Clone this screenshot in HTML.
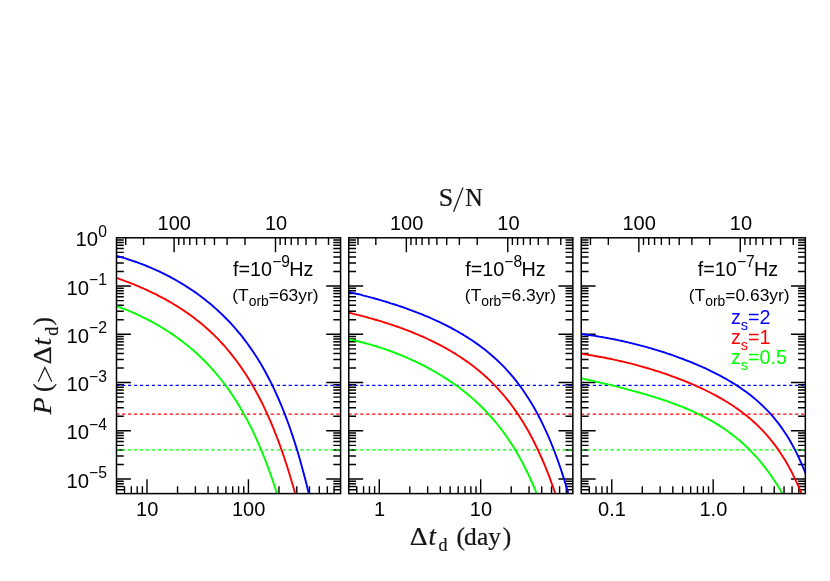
<!DOCTYPE html>
<html><head><meta charset="utf-8"><title>P(&gt;dt) vs dt</title>
<style>
html,body{margin:0;padding:0;background:#fff;}
svg{display:block;will-change:transform;}
.s{font-family:"Liberation Sans",sans-serif;fill:#000;}
.f{font-family:"Liberation Serif",serif;fill:#161616;stroke:#161616;stroke-width:0.22px;}
</style></head>
<body>
<svg width="830" height="581" viewBox="0 0 830 581">
<rect x="0" y="0" width="830" height="581" fill="#ffffff"/>
<defs>
<clipPath id="c0"><rect x="116.50" y="237.80" width="224.10" height="255.80"/></clipPath>
<clipPath id="c1"><rect x="348.75" y="237.80" width="224.10" height="255.80"/></clipPath>
<clipPath id="c2"><rect x="581.25" y="237.80" width="224.10" height="255.80"/></clipPath>
</defs>
<!-- panel L -->
<g>
<path d="M116.50 286.05h14.40M340.60 286.05h-14.40M116.50 271.53h7.30M340.60 271.53h-7.30M116.50 263.03h7.30M340.60 263.03h-7.30M116.50 257.00h7.30M340.60 257.00h-7.30M116.50 252.33h7.30M340.60 252.33h-7.30M116.50 248.51h7.30M340.60 248.51h-7.30M116.50 245.27h7.30M340.60 245.27h-7.30M116.50 242.48h7.30M340.60 242.48h-7.30M116.50 240.01h7.30M340.60 240.01h-7.30M116.50 334.31h14.40M340.60 334.31h-14.40M116.50 319.78h7.30M340.60 319.78h-7.30M116.50 311.29h7.30M340.60 311.29h-7.30M116.50 305.26h7.30M340.60 305.26h-7.30M116.50 300.58h7.30M340.60 300.58h-7.30M116.50 296.76h7.30M340.60 296.76h-7.30M116.50 293.53h7.30M340.60 293.53h-7.30M116.50 290.73h7.30M340.60 290.73h-7.30M116.50 288.26h7.30M340.60 288.26h-7.30M116.50 382.56h14.40M340.60 382.56h-14.40M116.50 368.04h7.30M340.60 368.04h-7.30M116.50 359.54h7.30M340.60 359.54h-7.30M116.50 353.51h7.30M340.60 353.51h-7.30M116.50 348.84h7.30M340.60 348.84h-7.30M116.50 345.01h7.30M340.60 345.01h-7.30M116.50 341.78h7.30M340.60 341.78h-7.30M116.50 338.99h7.30M340.60 338.99h-7.30M116.50 336.52h7.30M340.60 336.52h-7.30M116.50 430.82h14.40M340.60 430.82h-14.40M116.50 416.29h7.30M340.60 416.29h-7.30M116.50 407.80h7.30M340.60 407.80h-7.30M116.50 401.77h7.30M340.60 401.77h-7.30M116.50 397.09h7.30M340.60 397.09h-7.30M116.50 393.27h7.30M340.60 393.27h-7.30M116.50 390.04h7.30M340.60 390.04h-7.30M116.50 387.24h7.30M340.60 387.24h-7.30M116.50 384.77h7.30M340.60 384.77h-7.30M116.50 479.07h14.40M340.60 479.07h-14.40M116.50 464.55h7.30M340.60 464.55h-7.30M116.50 456.05h7.30M340.60 456.05h-7.30M116.50 450.02h7.30M340.60 450.02h-7.30M116.50 445.35h7.30M340.60 445.35h-7.30M116.50 441.52h7.30M340.60 441.52h-7.30M116.50 438.29h7.30M340.60 438.29h-7.30M116.50 435.50h7.30M340.60 435.50h-7.30M116.50 433.03h7.30M340.60 433.03h-7.30M116.50 489.78h7.30M340.60 489.78h-7.30M116.50 486.55h7.30M340.60 486.55h-7.30M116.50 483.75h7.30M340.60 483.75h-7.30M116.50 481.28h7.30M340.60 481.28h-7.30M124.53 493.60v-7.30M131.32 493.60v-7.30M137.20 493.60v-7.30M142.38 493.60v-7.30M147.02 493.60v-14.40M177.55 493.60v-7.30M195.40 493.60v-7.30M208.07 493.60v-7.30M217.90 493.60v-7.30M225.93 493.60v-7.30M232.72 493.60v-7.30M238.60 493.60v-7.30M243.78 493.60v-7.30M248.42 493.60v-14.40M278.95 493.60v-7.30M296.80 493.60v-7.30M309.47 493.60v-7.30M319.30 493.60v-7.30M327.33 493.60v-7.30M334.12 493.60v-7.30M328.52 237.80v7.30M315.85 237.80v7.30M306.02 237.80v7.30M298.00 237.80v7.30M291.21 237.80v7.30M285.33 237.80v7.30M280.14 237.80v7.30M275.50 237.80v14.40M244.98 237.80v7.30M227.12 237.80v7.30M214.45 237.80v7.30M204.62 237.80v7.30M196.60 237.80v7.30M189.81 237.80v7.30M183.93 237.80v7.30M178.74 237.80v7.30M174.10 237.80v14.40M143.58 237.80v7.30M125.72 237.80v7.30" stroke="#000" stroke-width="1.40" fill="none"/>
<line x1="116.10" y1="385.30" x2="339.80" y2="385.30" stroke="#0000ff" stroke-width="1.35" stroke-dasharray="3.25 2.7"/>
<line x1="116.10" y1="414.10" x2="339.80" y2="414.10" stroke="#ff0000" stroke-width="1.35" stroke-dasharray="3.25 2.7"/>
<line x1="116.10" y1="449.80" x2="339.80" y2="449.80" stroke="#00ff00" stroke-width="1.35" stroke-dasharray="3.25 2.7"/>
<g clip-path="url(#c0)" fill="none" stroke-width="1.9" stroke-linejoin="round">
<path d="M114.6 255.4 L116.6 256.0 L118.6 256.5 L120.6 257.1 L122.6 257.6 L124.6 258.2 L126.6 258.8 L128.6 259.5 L130.6 260.1 L132.6 260.8 L134.6 261.5 L136.6 262.2 L138.6 262.9 L140.6 263.6 L142.6 264.4 L144.6 265.2 L146.6 266.0 L148.6 266.8 L150.6 267.6 L152.6 268.5 L154.6 269.4 L156.6 270.3 L158.6 271.2 L160.6 272.2 L162.6 273.1 L164.6 274.1 L166.6 275.1 L168.6 276.1 L170.6 277.2 L172.6 278.3 L174.6 279.4 L176.6 280.5 L178.6 281.7 L180.6 282.9 L182.6 284.1 L184.6 285.3 L186.6 286.6 L188.6 287.9 L190.6 289.2 L192.6 290.5 L194.6 291.9 L196.6 293.3 L198.6 294.8 L200.6 296.2 L202.6 297.7 L204.6 299.3 L206.6 300.9 L208.6 302.5 L210.6 304.1 L212.6 305.8 L214.6 307.6 L216.6 309.4 L218.6 311.2 L220.6 313.1 L222.6 315.0 L224.6 317.0 L226.6 319.0 L228.6 321.0 L230.6 323.2 L232.6 325.4 L234.6 327.6 L236.6 329.9 L238.6 332.3 L240.6 334.7 L242.6 337.2 L244.6 339.8 L246.6 342.5 L248.6 345.2 L250.6 348.1 L252.6 351.0 L254.6 354.0 L256.6 357.1 L258.6 360.3 L260.6 363.6 L262.6 367.0 L264.6 370.5 L266.6 374.2 L268.6 378.0 L270.6 381.9 L272.6 385.9 L274.6 390.1 L276.6 394.5 L278.6 399.0 L280.6 403.7 L282.6 408.5 L284.6 413.6 L286.6 418.8 L288.6 424.3 L290.6 430.0 L292.6 435.9 L294.6 442.0 L296.6 448.4 L298.6 455.0 L300.6 462.0 L302.6 469.2 L304.6 476.8 L306.6 484.6 L308.6 492.8" stroke="#0000ff"/>
<path d="M114.6 277.2 L116.6 277.9 L118.6 278.6 L120.6 279.3 L122.6 280.1 L124.6 280.8 L126.6 281.6 L128.6 282.3 L130.6 283.1 L132.6 283.9 L134.6 284.7 L136.6 285.6 L138.6 286.4 L140.6 287.3 L142.6 288.1 L144.6 289.0 L146.6 289.9 L148.6 290.9 L150.6 291.8 L152.6 292.8 L154.6 293.7 L156.6 294.7 L158.6 295.8 L160.6 296.8 L162.6 297.9 L164.6 298.9 L166.6 300.1 L168.6 301.2 L170.6 302.3 L172.6 303.5 L174.6 304.7 L176.6 305.9 L178.6 307.2 L180.6 308.5 L182.6 309.8 L184.6 311.1 L186.6 312.5 L188.6 313.9 L190.6 315.3 L192.6 316.8 L194.6 318.3 L196.6 319.9 L198.6 321.5 L200.6 323.1 L202.6 324.7 L204.6 326.4 L206.6 328.2 L208.6 330.0 L210.6 331.8 L212.6 333.7 L214.6 335.7 L216.6 337.7 L218.6 339.7 L220.6 341.8 L222.6 344.0 L224.6 346.2 L226.6 348.5 L228.6 350.9 L230.6 353.3 L232.6 355.8 L234.6 358.4 L236.6 361.0 L238.6 363.8 L240.6 366.6 L242.6 369.5 L244.6 372.5 L246.6 375.6 L248.6 378.8 L250.6 382.0 L252.6 385.5 L254.6 389.0 L256.6 392.6 L258.6 396.3 L260.6 400.2 L262.6 404.2 L264.6 408.4 L266.6 412.7 L268.6 417.1 L270.6 421.7 L272.6 426.4 L274.6 431.4 L276.6 436.5 L278.6 441.7 L280.6 447.2 L282.6 452.9 L284.6 458.8 L286.6 464.8 L288.6 471.2 L290.6 477.7 L292.6 484.5 L294.6 491.6 L296.6 498.9" stroke="#ff0000"/>
<path d="M114.6 305.3 L116.6 306.0 L118.6 306.8 L120.6 307.5 L122.6 308.3 L124.6 309.1 L126.6 309.9 L128.6 310.7 L130.6 311.6 L132.6 312.4 L134.6 313.3 L136.6 314.2 L138.6 315.1 L140.6 316.1 L142.6 317.1 L144.6 318.1 L146.6 319.1 L148.6 320.1 L150.6 321.2 L152.6 322.2 L154.6 323.3 L156.6 324.5 L158.6 325.6 L160.6 326.8 L162.6 328.0 L164.6 329.2 L166.6 330.5 L168.6 331.8 L170.6 333.1 L172.6 334.4 L174.6 335.8 L176.6 337.2 L178.6 338.7 L180.6 340.1 L182.6 341.7 L184.6 343.2 L186.6 344.8 L188.6 346.4 L190.6 348.1 L192.6 349.8 L194.6 351.5 L196.6 353.3 L198.6 355.2 L200.6 357.1 L202.6 359.0 L204.6 361.0 L206.6 363.0 L208.6 365.1 L210.6 367.3 L212.6 369.5 L214.6 371.8 L216.6 374.1 L218.6 376.5 L220.6 379.0 L222.6 381.5 L224.6 384.1 L226.6 386.8 L228.6 389.6 L230.6 392.5 L232.6 395.4 L234.6 398.5 L236.6 401.6 L238.6 404.9 L240.6 408.2 L242.6 411.7 L244.6 415.2 L246.6 418.9 L248.6 422.7 L250.6 426.6 L252.6 430.7 L254.6 434.9 L256.6 439.3 L258.6 443.8 L260.6 448.5 L262.6 453.3 L264.6 458.3 L266.6 463.5 L268.6 468.9 L270.6 474.5 L272.6 480.3 L274.6 486.3 L276.6 492.5 L278.6 499.0" stroke="#00ff00"/>
</g>
<rect x="116.50" y="237.80" width="224.10" height="255.80" fill="none" stroke="#000" stroke-width="1.50"/>
</g>
<!-- panel M -->
<g>
<path d="M348.75 286.05h14.40M572.85 286.05h-14.40M348.75 271.53h7.30M572.85 271.53h-7.30M348.75 263.03h7.30M572.85 263.03h-7.30M348.75 257.00h7.30M572.85 257.00h-7.30M348.75 252.33h7.30M572.85 252.33h-7.30M348.75 248.51h7.30M572.85 248.51h-7.30M348.75 245.27h7.30M572.85 245.27h-7.30M348.75 242.48h7.30M572.85 242.48h-7.30M348.75 240.01h7.30M572.85 240.01h-7.30M348.75 334.31h14.40M572.85 334.31h-14.40M348.75 319.78h7.30M572.85 319.78h-7.30M348.75 311.29h7.30M572.85 311.29h-7.30M348.75 305.26h7.30M572.85 305.26h-7.30M348.75 300.58h7.30M572.85 300.58h-7.30M348.75 296.76h7.30M572.85 296.76h-7.30M348.75 293.53h7.30M572.85 293.53h-7.30M348.75 290.73h7.30M572.85 290.73h-7.30M348.75 288.26h7.30M572.85 288.26h-7.30M348.75 382.56h14.40M572.85 382.56h-14.40M348.75 368.04h7.30M572.85 368.04h-7.30M348.75 359.54h7.30M572.85 359.54h-7.30M348.75 353.51h7.30M572.85 353.51h-7.30M348.75 348.84h7.30M572.85 348.84h-7.30M348.75 345.01h7.30M572.85 345.01h-7.30M348.75 341.78h7.30M572.85 341.78h-7.30M348.75 338.99h7.30M572.85 338.99h-7.30M348.75 336.52h7.30M572.85 336.52h-7.30M348.75 430.82h14.40M572.85 430.82h-14.40M348.75 416.29h7.30M572.85 416.29h-7.30M348.75 407.80h7.30M572.85 407.80h-7.30M348.75 401.77h7.30M572.85 401.77h-7.30M348.75 397.09h7.30M572.85 397.09h-7.30M348.75 393.27h7.30M572.85 393.27h-7.30M348.75 390.04h7.30M572.85 390.04h-7.30M348.75 387.24h7.30M572.85 387.24h-7.30M348.75 384.77h7.30M572.85 384.77h-7.30M348.75 479.07h14.40M572.85 479.07h-14.40M348.75 464.55h7.30M572.85 464.55h-7.30M348.75 456.05h7.30M572.85 456.05h-7.30M348.75 450.02h7.30M572.85 450.02h-7.30M348.75 445.35h7.30M572.85 445.35h-7.30M348.75 441.52h7.30M572.85 441.52h-7.30M348.75 438.29h7.30M572.85 438.29h-7.30M348.75 435.50h7.30M572.85 435.50h-7.30M348.75 433.03h7.30M572.85 433.03h-7.30M348.75 489.78h7.30M572.85 489.78h-7.30M348.75 486.55h7.30M572.85 486.55h-7.30M348.75 483.75h7.30M572.85 483.75h-7.30M348.75 481.28h7.30M572.85 481.28h-7.30M356.78 493.60v-7.30M363.57 493.60v-7.30M369.45 493.60v-7.30M374.63 493.60v-7.30M379.27 493.60v-14.40M409.80 493.60v-7.30M427.65 493.60v-7.30M440.32 493.60v-7.30M450.15 493.60v-7.30M458.18 493.60v-7.30M464.97 493.60v-7.30M470.85 493.60v-7.30M476.03 493.60v-7.30M480.67 493.60v-14.40M511.20 493.60v-7.30M529.05 493.60v-7.30M541.72 493.60v-7.30M551.55 493.60v-7.30M559.58 493.60v-7.30M566.37 493.60v-7.30M560.77 237.80v7.30M548.10 237.80v7.30M538.27 237.80v7.30M530.25 237.80v7.30M523.46 237.80v7.30M517.58 237.80v7.30M512.39 237.80v7.30M507.75 237.80v14.40M477.23 237.80v7.30M459.37 237.80v7.30M446.70 237.80v7.30M436.87 237.80v7.30M428.85 237.80v7.30M422.06 237.80v7.30M416.18 237.80v7.30M410.99 237.80v7.30M406.35 237.80v14.40M375.83 237.80v7.30M357.97 237.80v7.30" stroke="#000" stroke-width="1.40" fill="none"/>
<line x1="348.35" y1="385.30" x2="572.05" y2="385.30" stroke="#0000ff" stroke-width="1.35" stroke-dasharray="3.25 2.7"/>
<line x1="348.35" y1="414.10" x2="572.05" y2="414.10" stroke="#ff0000" stroke-width="1.35" stroke-dasharray="3.25 2.7"/>
<line x1="348.35" y1="449.80" x2="572.05" y2="449.80" stroke="#00ff00" stroke-width="1.35" stroke-dasharray="3.25 2.7"/>
<g clip-path="url(#c1)" fill="none" stroke-width="1.9" stroke-linejoin="round">
<path d="M346.7 291.4 L348.7 291.8 L350.7 292.3 L352.7 292.8 L354.7 293.3 L356.7 293.8 L358.7 294.2 L360.7 294.7 L362.7 295.3 L364.7 295.8 L366.7 296.3 L368.7 296.8 L370.7 297.4 L372.7 297.9 L374.7 298.5 L376.7 299.0 L378.7 299.6 L380.7 300.2 L382.7 300.8 L384.7 301.4 L386.7 302.0 L388.7 302.6 L390.7 303.3 L392.7 303.9 L394.7 304.5 L396.7 305.2 L398.7 305.9 L400.7 306.5 L402.7 307.2 L404.7 307.9 L406.7 308.6 L408.7 309.4 L410.7 310.1 L412.7 310.8 L414.7 311.6 L416.7 312.4 L418.7 313.1 L420.7 313.9 L422.7 314.7 L424.7 315.6 L426.7 316.4 L428.7 317.2 L430.7 318.1 L432.7 319.0 L434.7 319.9 L436.7 320.8 L438.7 321.7 L440.7 322.7 L442.7 323.6 L444.7 324.6 L446.7 325.6 L448.7 326.7 L450.7 327.7 L452.7 328.8 L454.7 329.9 L456.7 331.0 L458.7 332.1 L460.7 333.3 L462.7 334.4 L464.7 335.7 L466.7 336.9 L468.7 338.2 L470.7 339.5 L472.7 340.8 L474.7 342.2 L476.7 343.6 L478.7 345.0 L480.7 346.5 L482.7 348.0 L484.7 349.5 L486.7 351.1 L488.7 352.8 L490.7 354.5 L492.7 356.2 L494.7 358.0 L496.7 359.8 L498.7 361.7 L500.7 363.7 L502.7 365.7 L504.7 367.7 L506.7 369.9 L508.7 372.1 L510.7 374.4 L512.7 376.7 L514.7 379.2 L516.7 381.7 L518.7 384.3 L520.7 387.0 L522.7 389.8 L524.7 392.7 L526.7 395.7 L528.7 398.8 L530.7 402.0 L532.7 405.3 L534.7 408.8 L536.7 412.4 L538.7 416.2 L540.7 420.0 L542.7 424.1 L544.7 428.3 L546.7 432.7 L548.7 437.2 L550.7 442.0 L552.7 446.9 L554.7 452.0 L556.7 457.4 L558.7 463.0 L560.7 468.8 L562.7 474.9 L564.7 481.2 L566.7 487.8 L568.7 494.8" stroke="#0000ff"/>
<path d="M346.7 312.3 L348.7 312.7 L350.7 313.2 L352.7 313.7 L354.7 314.2 L356.7 314.6 L358.7 315.1 L360.7 315.6 L362.7 316.2 L364.7 316.7 L366.7 317.2 L368.7 317.8 L370.7 318.3 L372.7 318.9 L374.7 319.5 L376.7 320.0 L378.7 320.6 L380.7 321.2 L382.7 321.8 L384.7 322.5 L386.7 323.1 L388.7 323.8 L390.7 324.4 L392.7 325.1 L394.7 325.8 L396.7 326.5 L398.7 327.2 L400.7 327.9 L402.7 328.6 L404.7 329.4 L406.7 330.1 L408.7 330.9 L410.7 331.7 L412.7 332.5 L414.7 333.3 L416.7 334.1 L418.7 335.0 L420.7 335.8 L422.7 336.7 L424.7 337.6 L426.7 338.5 L428.7 339.5 L430.7 340.4 L432.7 341.4 L434.7 342.4 L436.7 343.4 L438.7 344.4 L440.7 345.4 L442.7 346.5 L444.7 347.6 L446.7 348.7 L448.7 349.9 L450.7 351.0 L452.7 352.2 L454.7 353.4 L456.7 354.7 L458.7 356.0 L460.7 357.3 L462.7 358.6 L464.7 360.0 L466.7 361.4 L468.7 362.8 L470.7 364.3 L472.7 365.8 L474.7 367.3 L476.7 368.9 L478.7 370.5 L480.7 372.2 L482.7 373.9 L484.7 375.7 L486.7 377.5 L488.7 379.4 L490.7 381.3 L492.7 383.3 L494.7 385.3 L496.7 387.4 L498.7 389.6 L500.7 391.8 L502.7 394.1 L504.7 396.5 L506.7 398.9 L508.7 401.4 L510.7 404.0 L512.7 406.7 L514.7 409.5 L516.7 412.4 L518.7 415.3 L520.7 418.4 L522.7 421.6 L524.7 424.9 L526.7 428.3 L528.7 431.8 L530.7 435.5 L532.7 439.3 L534.7 443.2 L536.7 447.3 L538.7 451.5 L540.7 455.9 L542.7 460.5 L544.7 465.2 L546.7 470.1 L548.7 475.2 L550.7 480.6 L552.7 486.1 L554.7 491.8 L556.7 497.8" stroke="#ff0000"/>
<path d="M346.7 338.8 L348.7 339.2 L350.7 339.6 L352.7 340.1 L354.7 340.5 L356.7 341.0 L358.7 341.5 L360.7 342.0 L362.7 342.5 L364.7 343.0 L366.7 343.6 L368.7 344.1 L370.7 344.7 L372.7 345.3 L374.7 345.9 L376.7 346.5 L378.7 347.1 L380.7 347.8 L382.7 348.4 L384.7 349.1 L386.7 349.8 L388.7 350.5 L390.7 351.2 L392.7 352.0 L394.7 352.7 L396.7 353.5 L398.7 354.3 L400.7 355.1 L402.7 355.9 L404.7 356.8 L406.7 357.6 L408.7 358.5 L410.7 359.4 L412.7 360.3 L414.7 361.2 L416.7 362.2 L418.7 363.1 L420.7 364.1 L422.7 365.1 L424.7 366.1 L426.7 367.2 L428.7 368.3 L430.7 369.4 L432.7 370.5 L434.7 371.6 L436.7 372.8 L438.7 374.0 L440.7 375.2 L442.7 376.4 L444.7 377.7 L446.7 378.9 L448.7 380.3 L450.7 381.6 L452.7 383.0 L454.7 384.4 L456.7 385.8 L458.7 387.3 L460.7 388.8 L462.7 390.3 L464.7 391.9 L466.7 393.5 L468.7 395.2 L470.7 396.9 L472.7 398.6 L474.7 400.4 L476.7 402.2 L478.7 404.1 L480.7 406.0 L482.7 408.0 L484.7 410.0 L486.7 412.1 L488.7 414.3 L490.7 416.5 L492.7 418.7 L494.7 421.1 L496.7 423.5 L498.7 426.0 L500.7 428.5 L502.7 431.2 L504.7 433.9 L506.7 436.7 L508.7 439.7 L510.7 442.7 L512.7 445.8 L514.7 449.0 L516.7 452.4 L518.7 455.8 L520.7 459.4 L522.7 463.1 L524.7 467.0 L526.7 471.0 L528.7 475.2 L530.7 479.5 L532.7 484.0 L534.7 488.7 L536.7 493.5 L538.7 498.6" stroke="#00ff00"/>
</g>
<rect x="348.75" y="237.80" width="224.10" height="255.80" fill="none" stroke="#000" stroke-width="1.50"/>
</g>
<!-- panel R -->
<g>
<path d="M581.25 286.05h14.40M805.35 286.05h-14.40M581.25 271.53h7.30M805.35 271.53h-7.30M581.25 263.03h7.30M805.35 263.03h-7.30M581.25 257.00h7.30M805.35 257.00h-7.30M581.25 252.33h7.30M805.35 252.33h-7.30M581.25 248.51h7.30M805.35 248.51h-7.30M581.25 245.27h7.30M805.35 245.27h-7.30M581.25 242.48h7.30M805.35 242.48h-7.30M581.25 240.01h7.30M805.35 240.01h-7.30M581.25 334.31h14.40M805.35 334.31h-14.40M581.25 319.78h7.30M805.35 319.78h-7.30M581.25 311.29h7.30M805.35 311.29h-7.30M581.25 305.26h7.30M805.35 305.26h-7.30M581.25 300.58h7.30M805.35 300.58h-7.30M581.25 296.76h7.30M805.35 296.76h-7.30M581.25 293.53h7.30M805.35 293.53h-7.30M581.25 290.73h7.30M805.35 290.73h-7.30M581.25 288.26h7.30M805.35 288.26h-7.30M581.25 382.56h14.40M805.35 382.56h-14.40M581.25 368.04h7.30M805.35 368.04h-7.30M581.25 359.54h7.30M805.35 359.54h-7.30M581.25 353.51h7.30M805.35 353.51h-7.30M581.25 348.84h7.30M805.35 348.84h-7.30M581.25 345.01h7.30M805.35 345.01h-7.30M581.25 341.78h7.30M805.35 341.78h-7.30M581.25 338.99h7.30M805.35 338.99h-7.30M581.25 336.52h7.30M805.35 336.52h-7.30M581.25 430.82h14.40M805.35 430.82h-14.40M581.25 416.29h7.30M805.35 416.29h-7.30M581.25 407.80h7.30M805.35 407.80h-7.30M581.25 401.77h7.30M805.35 401.77h-7.30M581.25 397.09h7.30M805.35 397.09h-7.30M581.25 393.27h7.30M805.35 393.27h-7.30M581.25 390.04h7.30M805.35 390.04h-7.30M581.25 387.24h7.30M805.35 387.24h-7.30M581.25 384.77h7.30M805.35 384.77h-7.30M581.25 479.07h14.40M805.35 479.07h-14.40M581.25 464.55h7.30M805.35 464.55h-7.30M581.25 456.05h7.30M805.35 456.05h-7.30M581.25 450.02h7.30M805.35 450.02h-7.30M581.25 445.35h7.30M805.35 445.35h-7.30M581.25 441.52h7.30M805.35 441.52h-7.30M581.25 438.29h7.30M805.35 438.29h-7.30M581.25 435.50h7.30M805.35 435.50h-7.30M581.25 433.03h7.30M805.35 433.03h-7.30M581.25 489.78h7.30M805.35 489.78h-7.30M581.25 486.55h7.30M805.35 486.55h-7.30M581.25 483.75h7.30M805.35 483.75h-7.30M581.25 481.28h7.30M805.35 481.28h-7.30M589.28 493.60v-7.30M596.07 493.60v-7.30M601.95 493.60v-7.30M607.13 493.60v-7.30M611.77 493.60v-14.40M642.30 493.60v-7.30M660.15 493.60v-7.30M672.82 493.60v-7.30M682.65 493.60v-7.30M690.68 493.60v-7.30M697.47 493.60v-7.30M703.35 493.60v-7.30M708.53 493.60v-7.30M713.17 493.60v-14.40M743.70 493.60v-7.30M761.55 493.60v-7.30M774.22 493.60v-7.30M784.05 493.60v-7.30M792.08 493.60v-7.30M798.87 493.60v-7.30M793.27 237.80v7.30M780.60 237.80v7.30M770.77 237.80v7.30M762.75 237.80v7.30M755.96 237.80v7.30M750.08 237.80v7.30M744.89 237.80v7.30M740.25 237.80v14.40M709.73 237.80v7.30M691.87 237.80v7.30M679.20 237.80v7.30M669.37 237.80v7.30M661.35 237.80v7.30M654.56 237.80v7.30M648.68 237.80v7.30M643.49 237.80v7.30M638.85 237.80v14.40M608.33 237.80v7.30M590.47 237.80v7.30" stroke="#000" stroke-width="1.40" fill="none"/>
<line x1="580.85" y1="385.30" x2="804.55" y2="385.30" stroke="#0000ff" stroke-width="1.35" stroke-dasharray="3.25 2.7"/>
<line x1="580.85" y1="414.10" x2="804.55" y2="414.10" stroke="#ff0000" stroke-width="1.35" stroke-dasharray="3.25 2.7"/>
<line x1="580.85" y1="449.80" x2="804.55" y2="449.80" stroke="#00ff00" stroke-width="1.35" stroke-dasharray="3.25 2.7"/>
<g clip-path="url(#c2)" fill="none" stroke-width="1.9" stroke-linejoin="round">
<path d="M579.0 333.7 L581.0 334.0 L583.0 334.2 L585.0 334.5 L587.0 334.8 L589.0 335.0 L591.0 335.3 L593.0 335.6 L595.0 335.9 L597.0 336.3 L599.0 336.6 L601.0 336.9 L603.0 337.3 L605.0 337.6 L607.0 338.0 L609.0 338.4 L611.0 338.7 L613.0 339.1 L615.0 339.5 L617.0 339.9 L619.0 340.4 L621.0 340.8 L623.0 341.2 L625.0 341.7 L627.0 342.1 L629.0 342.6 L631.0 343.1 L633.0 343.6 L635.0 344.1 L637.0 344.6 L639.0 345.1 L641.0 345.6 L643.0 346.1 L645.0 346.7 L647.0 347.2 L649.0 347.8 L651.0 348.4 L653.0 349.0 L655.0 349.6 L657.0 350.2 L659.0 350.8 L661.0 351.4 L663.0 352.0 L665.0 352.7 L667.0 353.4 L669.0 354.0 L671.0 354.7 L673.0 355.4 L675.0 356.1 L677.0 356.8 L679.0 357.6 L681.0 358.3 L683.0 359.0 L685.0 359.8 L687.0 360.6 L689.0 361.4 L691.0 362.2 L693.0 363.0 L695.0 363.8 L697.0 364.7 L699.0 365.6 L701.0 366.4 L703.0 367.3 L705.0 368.2 L707.0 369.2 L709.0 370.1 L711.0 371.1 L713.0 372.1 L715.0 373.1 L717.0 374.1 L719.0 375.1 L721.0 376.2 L723.0 377.3 L725.0 378.4 L727.0 379.5 L729.0 380.7 L731.0 381.9 L733.0 383.1 L735.0 384.3 L737.0 385.6 L739.0 386.9 L741.0 388.3 L743.0 389.7 L745.0 391.1 L747.0 392.6 L749.0 394.1 L751.0 395.6 L753.0 397.2 L755.0 398.9 L757.0 400.6 L759.0 402.4 L761.0 404.2 L763.0 406.1 L765.0 408.1 L767.0 410.1 L769.0 412.2 L771.0 414.4 L773.0 416.7 L775.0 419.1 L777.0 421.6 L779.0 424.2 L781.0 426.9 L783.0 429.8 L785.0 432.7 L787.0 435.8 L789.0 439.1 L791.0 442.5 L793.0 446.1 L795.0 449.9 L797.0 453.9 L799.0 458.1 L801.0 462.5 L803.0 467.1 L805.0 472.0 L807.0 477.2 L809.0 482.7" stroke="#0000ff"/>
<path d="M579.0 353.4 L581.0 353.7 L583.0 354.0 L585.0 354.3 L587.0 354.6 L589.0 355.0 L591.0 355.3 L593.0 355.6 L595.0 356.0 L597.0 356.3 L599.0 356.7 L601.0 357.0 L603.0 357.4 L605.0 357.8 L607.0 358.2 L609.0 358.6 L611.0 359.0 L613.0 359.4 L615.0 359.9 L617.0 360.3 L619.0 360.8 L621.0 361.2 L623.0 361.7 L625.0 362.2 L627.0 362.7 L629.0 363.2 L631.0 363.7 L633.0 364.2 L635.0 364.7 L637.0 365.2 L639.0 365.8 L641.0 366.3 L643.0 366.9 L645.0 367.5 L647.0 368.0 L649.0 368.6 L651.0 369.2 L653.0 369.8 L655.0 370.5 L657.0 371.1 L659.0 371.7 L661.0 372.4 L663.0 373.1 L665.0 373.7 L667.0 374.4 L669.0 375.1 L671.0 375.8 L673.0 376.6 L675.0 377.3 L677.0 378.0 L679.0 378.8 L681.0 379.6 L683.0 380.4 L685.0 381.2 L687.0 382.0 L689.0 382.8 L691.0 383.6 L693.0 384.5 L695.0 385.4 L697.0 386.3 L699.0 387.2 L701.0 388.1 L703.0 389.0 L705.0 390.0 L707.0 391.0 L709.0 392.0 L711.0 393.0 L713.0 394.0 L715.0 395.1 L717.0 396.2 L719.0 397.3 L721.0 398.4 L723.0 399.6 L725.0 400.8 L727.0 402.0 L729.0 403.2 L731.0 404.5 L733.0 405.8 L735.0 407.2 L737.0 408.6 L739.0 410.0 L741.0 411.5 L743.0 413.0 L745.0 414.5 L747.0 416.1 L749.0 417.7 L751.0 419.4 L753.0 421.2 L755.0 423.0 L757.0 424.9 L759.0 426.8 L761.0 428.8 L763.0 430.9 L765.0 433.1 L767.0 435.3 L769.0 437.6 L771.0 440.1 L773.0 442.6 L775.0 445.2 L777.0 447.9 L779.0 450.8 L781.0 453.8 L783.0 456.9 L785.0 460.1 L787.0 463.5 L789.0 467.1 L791.0 470.8 L793.0 474.7 L795.0 478.8 L797.0 483.1 L799.0 487.6 L801.0 492.4 L803.0 497.4" stroke="#ff0000"/>
<path d="M579.0 377.7 L581.0 378.1 L583.0 378.6 L585.0 379.1 L587.0 379.5 L589.0 380.0 L591.0 380.4 L593.0 380.9 L595.0 381.4 L597.0 381.8 L599.0 382.3 L601.0 382.8 L603.0 383.3 L605.0 383.7 L607.0 384.2 L609.0 384.7 L611.0 385.2 L613.0 385.7 L615.0 386.2 L617.0 386.7 L619.0 387.2 L621.0 387.7 L623.0 388.2 L625.0 388.7 L627.0 389.3 L629.0 389.8 L631.0 390.3 L633.0 390.9 L635.0 391.4 L637.0 392.0 L639.0 392.5 L641.0 393.1 L643.0 393.7 L645.0 394.2 L647.0 394.8 L649.0 395.4 L651.0 396.0 L653.0 396.6 L655.0 397.3 L657.0 397.9 L659.0 398.5 L661.0 399.2 L663.0 399.8 L665.0 400.5 L667.0 401.2 L669.0 401.9 L671.0 402.6 L673.0 403.3 L675.0 404.1 L677.0 404.8 L679.0 405.6 L681.0 406.4 L683.0 407.2 L685.0 408.0 L687.0 408.8 L689.0 409.7 L691.0 410.6 L693.0 411.5 L695.0 412.4 L697.0 413.3 L699.0 414.3 L701.0 415.3 L703.0 416.3 L705.0 417.3 L707.0 418.4 L709.0 419.5 L711.0 420.6 L713.0 421.7 L715.0 422.9 L717.0 424.1 L719.0 425.4 L721.0 426.6 L723.0 428.0 L725.0 429.3 L727.0 430.7 L729.0 432.2 L731.0 433.6 L733.0 435.2 L735.0 436.7 L737.0 438.4 L739.0 440.0 L741.0 441.8 L743.0 443.5 L745.0 445.4 L747.0 447.3 L749.0 449.2 L751.0 451.3 L753.0 453.3 L755.0 455.5 L757.0 457.7 L759.0 460.0 L761.0 462.4 L763.0 464.9 L765.0 467.4 L767.0 470.0 L769.0 472.8 L771.0 475.6 L773.0 478.5 L775.0 481.5 L777.0 484.6 L779.0 487.8 L781.0 491.2 L783.0 494.6 L785.0 498.2" stroke="#00ff00"/>
</g>
<rect x="581.25" y="237.80" width="224.10" height="255.80" fill="none" stroke="#000" stroke-width="1.50"/>
</g>
<g class="s" font-size="20.0" text-anchor="middle">
<text x="147.2" y="516.1">10</text><text x="248.6" y="516.1">100</text>
<text x="174.3" y="229.7">100</text><text x="276.1" y="229.7">10</text>
<text x="379.5" y="516.1">1</text><text x="480.9" y="516.1">10</text>
<text x="406.6" y="229.7">100</text><text x="508.4" y="229.7">10</text>
<text x="612.0" y="516.1">0.1</text><text x="713.4" y="516.1">1.0</text>
<text x="639.1" y="229.7">100</text><text x="740.9" y="229.7">10</text>
</g>
<g class="s" font-size="20.3" text-anchor="end">
<text x="106.9" y="246.4">10<tspan font-size="15.7" dy="-9.5">0</tspan></text>
<text x="106.9" y="294.7">10<tspan font-size="15.7" dy="-9.5">−1</tspan></text>
<text x="106.9" y="342.9">10<tspan font-size="15.7" dy="-9.5">−2</tspan></text>
<text x="106.9" y="391.2">10<tspan font-size="15.7" dy="-9.5">−3</tspan></text>
<text x="106.9" y="439.4">10<tspan font-size="15.7" dy="-9.5">−4</tspan></text>
<text x="106.9" y="487.7">10<tspan font-size="15.7" dy="-9.5">−5</tspan></text>
</g>
<g class="s">
<text x="233.0" y="275.5" font-size="19.8" text-anchor="start">f=10<tspan font-size="15.6" dy="-8.8" dx="0.1">−9</tspan><tspan dy="8.8" dx="-0.7">Hz</tspan></text>
<text x="275.4" y="300.6" font-size="17.4" text-anchor="middle">(T<tspan font-size="13.9" dy="5.3">orb</tspan><tspan dy="-5.3">=63yr)</tspan></text>
<text x="465.2" y="275.5" font-size="19.8" text-anchor="start">f=10<tspan font-size="15.6" dy="-8.8" dx="0.1">−8</tspan><tspan dy="8.8" dx="-0.7">Hz</tspan></text>
<text x="510.4" y="300.6" font-size="17.4" text-anchor="middle">(T<tspan font-size="13.9" dy="5.3">orb</tspan><tspan dy="-5.3">=6.3yr)</tspan></text>
<text x="697.8" y="275.5" font-size="19.8" text-anchor="start">f=10<tspan font-size="15.6" dy="-8.8" dx="0.1">−7</tspan><tspan dy="8.8" dx="-0.7">Hz</tspan></text>
<text x="739.2" y="300.6" font-size="17.4" text-anchor="middle">(T<tspan font-size="13.9" dy="5.3">orb</tspan><tspan dy="-5.3">=0.63yr)</tspan></text>
</g>
<g class="s" font-size="19.8">
<text x="730.9" y="323.6" style="fill:#0000ff">z<tspan font-size="14.5" dy="6.2">s</tspan><tspan dy="-6.2">=2</tspan></text>
<text x="730.9" y="343.9" style="fill:#ff0000">z<tspan font-size="14.5" dy="6.2">s</tspan><tspan dy="-6.2">=1</tspan></text>
<text x="730.9" y="364.0" style="fill:#00ff00">z<tspan font-size="14.5" dy="6.2">s</tspan><tspan dy="-6.2">=0.5</tspan></text>
</g>
<g class="f">
<text x="438.7" y="206.3" font-size="26">S</text><text transform="translate(465.2 206.3) scale(0.93 1)" font-size="26">N</text>
<line x1="463.0" y1="187.6" x2="453.6" y2="211.8" stroke="#1a1a1a" stroke-width="1.25"/>
<text transform="translate(409.8 544.6) scale(1.09 1)" font-size="25.5">Δ</text>
<text y="544.6" font-size="25.5"><tspan x="428.6" font-style="italic" font-size="27">t</tspan><tspan x="438.4" font-size="18" dy="6.4">d</tspan><tspan x="456.6" dy="-6.4">(</tspan><tspan x="464.0" letter-spacing="0.15">day</tspan><tspan x="502.8">)</tspan></text>
<text transform="translate(51.3 414.6) rotate(-90) scale(1.10 1)" font-size="25.5" font-style="italic">P</text><text transform="translate(51.3 392.0) rotate(-90) scale(1.00 1)" font-size="25.5">(</text>
<path d="M38.2 381.7L44.9 367.4L51.8 381.7" fill="none" stroke="#1a1a1a" stroke-width="1.2"/>
<text transform="translate(51.3 364.2) rotate(-90) scale(1.10 1)" font-size="25.5">Δ</text><text transform="translate(51.3 345.6) rotate(-90) scale(1.00 1)" font-size="27.0" font-style="italic">t</text><text transform="translate(57.7 335.7) rotate(-90) scale(1.00 1)" font-size="18.0">d</text><text transform="translate(51.3 325.4) rotate(-90) scale(1.00 1)" font-size="25.5">)</text>
</g>
</svg>
</body></html>
